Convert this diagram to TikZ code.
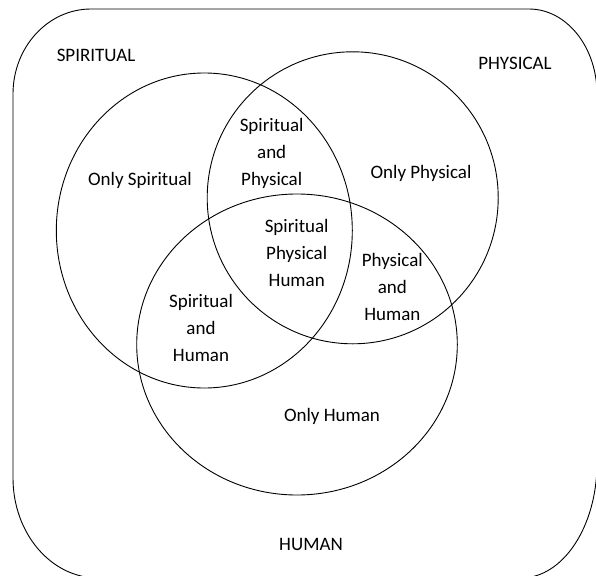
\documentclass[tikz,border=0pt]{standalone}
\usepackage{fontspec}
\setmainfont{Carlito}
\begin{document}
\begin{tikzpicture}[x=1pt,y=-1pt,
  lbl/.style={inner sep=0pt, anchor=base, align=center, font=\fontsize{19}{27}\selectfont},
  setline/.style={line width=0.9pt, draw=black}]
\useasboundingbox (0,0) rectangle (596,575);
\clip (0,0) rectangle (596,575);
% outer frame (universe)
\draw[setline] (13,94) arc[start angle=180, end angle=270, x radius=78, y radius=85]
  -- (529,9) arc[start angle=270, end angle=360, x radius=68, y radius=85]
  -- (597,463) arc[start angle=0, end angle=90, x radius=76, y radius=115]
  -- (98,578) arc[start angle=90, end angle=180, x radius=85, y radius=100]
  -- cycle;
% sets
\draw[setline] (204.3,230.5) circle[x radius=148, y radius=157.5];
\draw[setline] (352.7,197.8) circle[x radius=145.5, y radius=146];
\draw[setline] (297,344.5) circle[x radius=160.3, y radius=150.5];
% labels
\node[lbl] (tsp) at (96,61.7) {SPIRITUAL};
\node[lbl] (tph) at (515,70) {PHYSICAL};
\node[lbl] (thu) at (311,550) {HUMAN};
\node[lbl] (osp) at (140,185.5) {Only Spiritual};
\node[lbl] (oph) at (421,178.3) {Only Physical};
\node[lbl] (ohu) at (332,421) {Only Human};
% multi-line labels: base anchor = baseline of last line
\node[lbl] (sap) at (271.7,185.7) {Spiritual\\and\\Physical};
\node[lbl] (sph) at (296.7,286.7) {Spiritual\\Physical\\Human};
\node[lbl] (pah) at (392.3,320.7) {Physical\\and\\Human};
\node[lbl] (sah) at (201,361.7) {Spiritual\\and\\Human};
\end{tikzpicture}
\end{document}
